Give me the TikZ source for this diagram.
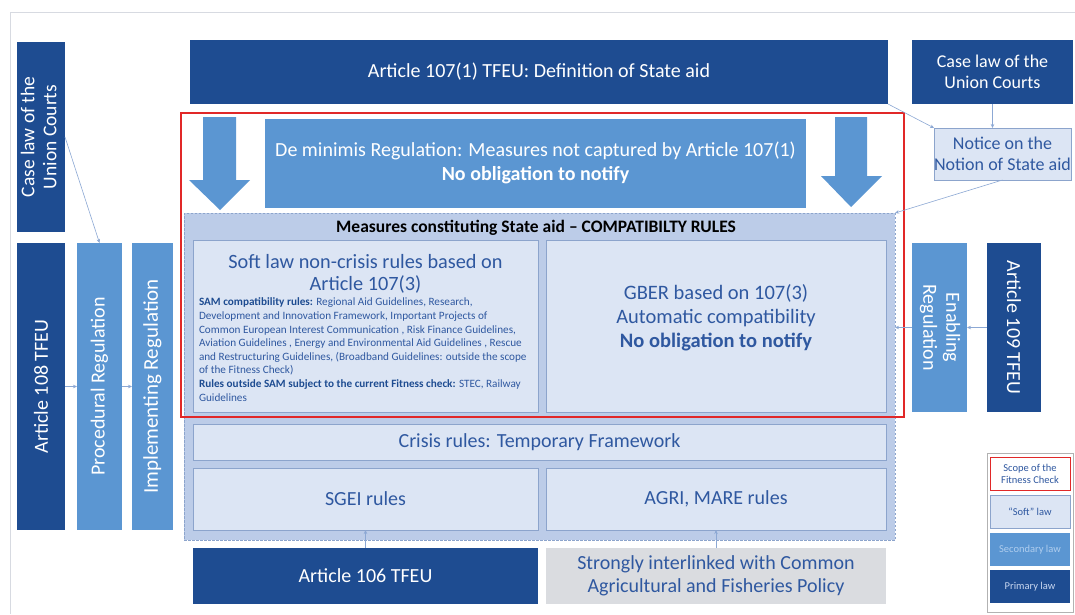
\documentclass[tikz,border=0pt]{standalone}
\usepackage{fontspec}
\usepackage{graphicx}
\setmainfont{Carlito}
\usetikzlibrary{arrows.meta,calc}
\definecolor{dkblue}{RGB}{30,76,145}
\definecolor{mdblue}{RGB}{91,150,210}
\definecolor{ltfill}{RGB}{220,229,244}
\definecolor{measfill}{RGB}{188,204,232}
\definecolor{boxline}{RGB}{140,164,204}
\definecolor{txtblue}{RGB}{47,88,160}
\definecolor{grayfill}{RGB}{218,220,224}
\definecolor{connc}{RGB}{140,168,212}
\definecolor{redline}{RGB}{225,40,40}
\definecolor{framec}{RGB}{215,218,225}
\definecolor{legsectxt}{RGB}{175,205,238}
\definecolor{legprimtxt}{RGB}{200,215,240}
\begin{document}
\begin{tikzpicture}[x=1pt,y=-1pt,
  base/.style={inner sep=0pt, outer sep=0pt, align=center, font=\fontsize{20}{23}\selectfont},
  prim/.style={base, fill=dkblue, text=white},
  secd/.style={base, fill=mdblue, text=white},
  soft/.style={base, fill=ltfill, draw=boxline, line width=0.8pt, text=txtblue},
  conn/.style={draw=connc, line width=0.6pt, -{Stealth[length=4pt,width=3.5pt]}},
  blockarrow/.style={fill=mdblue, draw=none},
  legbox/.style={base, font=\fontsize{10.5}{12}\selectfont, minimum width=80, minimum height=33}
]
\useasboundingbox (0,0) rectangle (1075,614);
\fill[white] (0,0) rectangle (1075,614);
\draw[framec, line width=0.8pt] (10,614) -- (10,12) -- (1075,12);

% left column
\node[prim, minimum width=48, minimum height=190, font=\fontsize{19.5}{22}\selectfont] (caseL) at (41,137)
  {\rotatebox{90}{\begin{tabular}{@{}c@{}}Case law of the\\Union Courts\end{tabular}}};
\node[prim, minimum width=48, minimum height=287] (art108) at (41,386.5)
  {\rotatebox{90}{Article 108 TFEU}};
\node[secd, minimum width=45, minimum height=287] (proc) at (99.5,386.5)
  {\rotatebox{90}{Procedural Regulation}};
\node[secd, minimum width=41, minimum height=287, font=\fontsize{21}{24}\selectfont] (impl) at (152.5,386.5)
  {\rotatebox{90}{Implementing Regulation}};

% top
\node[prim, minimum width=698, minimum height=64] (art107) at (539,72)
  {Article 107(1) TFEU: Definition of State aid};
\node[prim, minimum width=161, minimum height=64, font=\fontsize{18}{21}\selectfont] (caseR) at (992.5,72)
  {Case law of the\\Union Courts};
\node[soft, minimum width=135, minimum height=52, font=\fontsize{18}{21}\selectfont] (notice) at (1002.5,154)
  {Notice on the\\Notion of State aid};

% de minimis
\node[secd, minimum width=541, minimum height=89, font=\fontsize{20}{24}\selectfont] (demin) at (535.5,163)
  {De minimis Regulation: Measures not captured by Article 107(1)\\\textbf{No obligation to notify}};
\fill[blockarrow] (203,117) -- (236,117) -- (236,180) -- (250,180) -- (220,210) -- (189,180) -- (203,180) -- cycle;
\fill[blockarrow] (835,117) -- (867,117) -- (867,176) -- (882,176) -- (851,207) -- (821,176) -- (835,176) -- cycle;

% measures
\node[base, fill=measfill, draw=boxline, dash pattern=on 2.5pt off 1.5pt, line width=0.8pt,
  minimum width=711, minimum height=327] (meas) at (539.5,376.5) {};
\node[base, font=\fontsize{17.5}{20}\selectfont\bfseries, text=black] (meastitle) at (536,228)
  {Measures constituting State aid -- COMPATIBILTY RULES};
\node[soft, minimum width=345, minimum height=172] (softlaw) at (365.5,326) {};
\node[base, text=txtblue, font=\fontsize{20.3}{22}\selectfont] (softtitle) at (365.5,274)
  {Soft law non-crisis rules based on\\Article 107(3)};
\node[base, anchor=north west, align=left, text=txtblue, font=\fontsize{11.2}{13.6}\selectfont] (softtext) at (199,298)
  {\textcolor{dkblue}{\textbf{SAM compatibility rules:}} Regional Aid Guidelines, Research,\\
   Development and Innovation Framework, Important Projects of\\
   Common European Interest Communication , Risk Finance Guidelines,\\
   Aviation Guidelines , Energy and Environmental Aid Guidelines , Rescue\\
   and Restructuring Guidelines, (Broadband Guidelines: outside the scope\\
   of the Fitness Check)\\
   \textcolor{dkblue}{\textbf{Rules outside SAM subject to the current Fitness check:}} STEC, Railway\\
   Guidelines};
\node[soft, minimum width=340, minimum height=172] (gber) at (716,326) {};
\node[base, text=txtblue, font=\fontsize{20.5}{24}\selectfont] (gbertext) at (716,318)
  {GBER based on 107(3)\\Automatic compatibility\\\textbf{No obligation to notify}};
\node[soft, minimum width=693, minimum height=36] (crisis) at (539.5,442)
  {Crisis rules: Temporary Framework};
\node[soft, minimum width=345, minimum height=62] (sgei) at (365.5,499) {SGEI rules};
\node[soft, minimum width=340, minimum height=62] (agri) at (716,499) {AGRI, MARE rules};

% bottom
\node[prim, minimum width=345, minimum height=56] (art106) at (365.5,576) {Article 106 TFEU};
\node[base, fill=grayfill, text=txtblue, minimum width=340, minimum height=56] (strong) at (716,576)
  {Strongly interlinked with Common\\Agricultural and Fisheries Policy};

% right column
\node[secd, minimum width=55, minimum height=169] (enab) at (939.5,327.5)
  {\rotatebox{-90}{\begin{tabular}{@{}c@{}}Enabling\\Regulation\end{tabular}}};
\node[prim, minimum width=54, minimum height=169] (art109) at (1014,327.5)
  {\rotatebox{-90}{Article 109 TFEU}};

% scope of fitness check
\draw[redline, line width=1.6pt] (181,113) rectangle (904,417);

% connectors
\draw[conn] (caseL.east) -- (proc.north);
\draw[conn] (art108) -- (proc);
\draw[conn] (proc) -- (impl);
\draw[conn] (art107.south east) -- (notice.north west);
\draw[conn] (caseR.south) -- (caseR.south |- notice.north);
\draw[conn] (notice.south) -- (meas.north east);
\draw[conn] (art109) -- (enab);
\draw[conn] (enab) -- (enab.west -| meas.east);
\draw[conn] (art106) -- (sgei);
\draw[conn] (strong) -- (agri);

% legend
\node[base, draw=gray!60, line width=0.6pt, fill=white, minimum width=86, minimum height=159] (legend) at (1030,532.5) {};
\node[legbox, fill=white, draw=redline, line width=1pt, text=txtblue] (legscope) at (1030,474) {Scope of the\\Fitness Check};
\node[legbox, fill=ltfill, draw=boxline, line width=0.6pt, text=txtblue] (legsoft) at (1030,511.5) {``Soft'' law};
\node[legbox, fill=mdblue, text=legsectxt] (legsec) at (1030,549.5) {Secondary law};
\node[legbox, fill=dkblue, text=legprimtxt] (legprim) at (1030,586.5) {Primary law};
\end{tikzpicture}
\end{document}
